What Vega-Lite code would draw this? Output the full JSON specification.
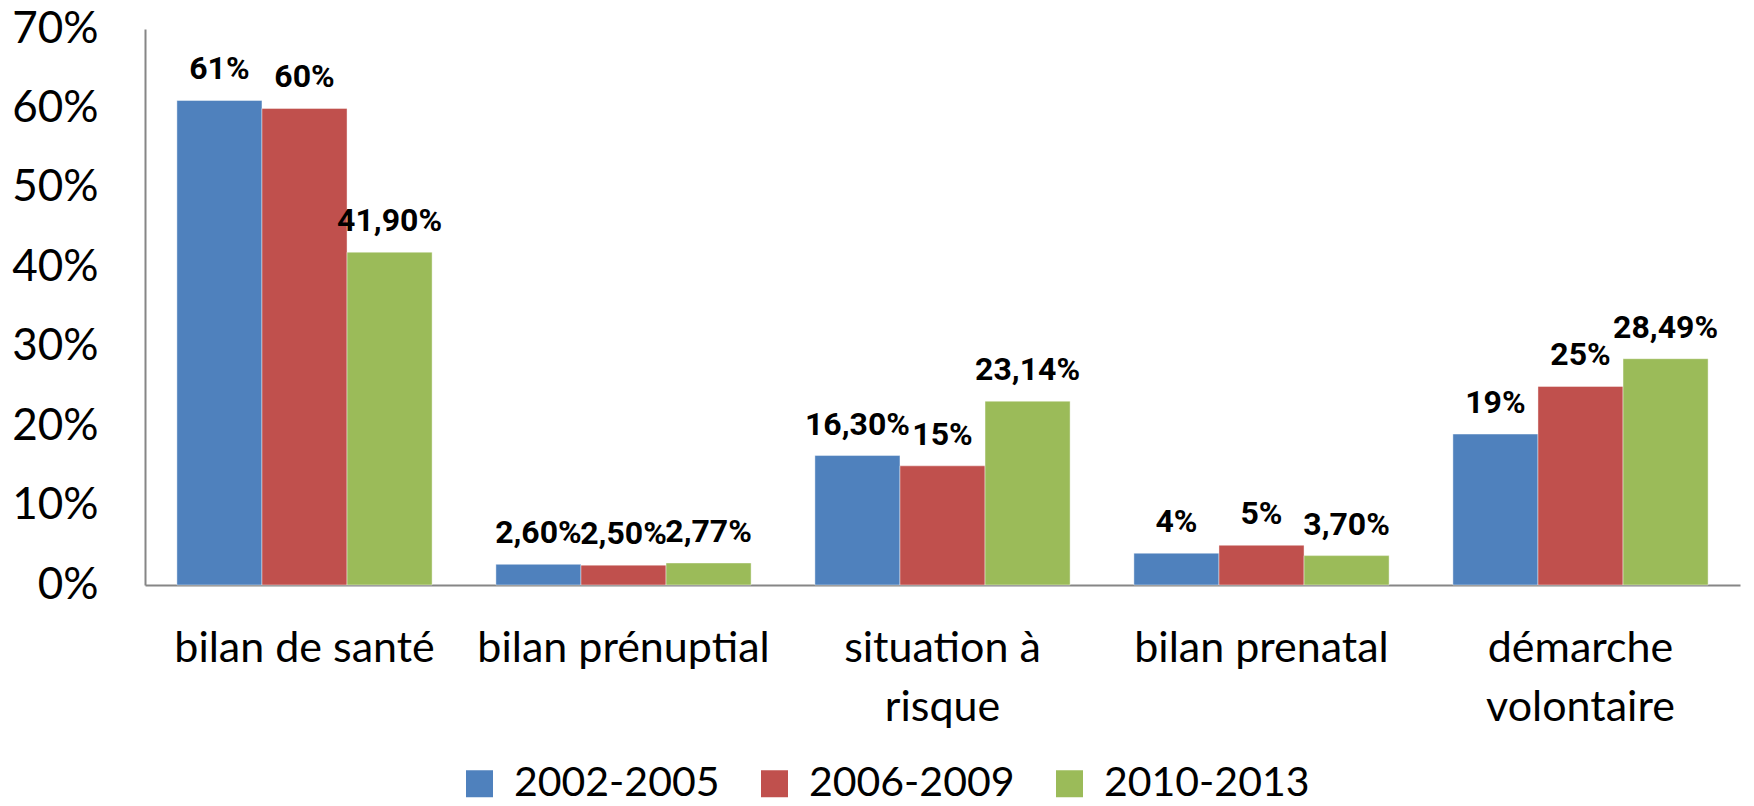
{
  "$schema": "https://vega.github.io/schema/vega-lite/v6.json",
  "autosize": {"type": "none"},
  "width": 1595,
  "height": 556,
  "padding": {"left": 145, "top": 29, "right": 14, "bottom": 221},
  "background": "white",
  "data": {
    "values": [
      {"categorie": "bilan de santé", "periode": "2002-2005", "valeur": 0.61, "etiquette": "61%"},
      {"categorie": "bilan de santé", "periode": "2006-2009", "valeur": 0.60, "etiquette": "60%"},
      {"categorie": "bilan de santé", "periode": "2010-2013", "valeur": 0.419, "etiquette": "41,90%"},
      {"categorie": "bilan prénuptial", "periode": "2002-2005", "valeur": 0.026, "etiquette": "2,60%"},
      {"categorie": "bilan prénuptial", "periode": "2006-2009", "valeur": 0.025, "etiquette": "2,50%"},
      {"categorie": "bilan prénuptial", "periode": "2010-2013", "valeur": 0.0277, "etiquette": "2,77%"},
      {"categorie": "situation à risque", "periode": "2002-2005", "valeur": 0.163, "etiquette": "16,30%"},
      {"categorie": "situation à risque", "periode": "2006-2009", "valeur": 0.15, "etiquette": "15%"},
      {"categorie": "situation à risque", "periode": "2010-2013", "valeur": 0.2314, "etiquette": "23,14%"},
      {"categorie": "bilan prenatal", "periode": "2002-2005", "valeur": 0.04, "etiquette": "4%"},
      {"categorie": "bilan prenatal", "periode": "2006-2009", "valeur": 0.05, "etiquette": "5%"},
      {"categorie": "bilan prenatal", "periode": "2010-2013", "valeur": 0.037, "etiquette": "3,70%"},
      {"categorie": "démarche volontaire", "periode": "2002-2005", "valeur": 0.19, "etiquette": "19%"},
      {"categorie": "démarche volontaire", "periode": "2006-2009", "valeur": 0.25, "etiquette": "25%"},
      {"categorie": "démarche volontaire", "periode": "2010-2013", "valeur": 0.2849, "etiquette": "28,49%"}
    ]
  },
  "encoding": {
    "x": {
      "field": "categorie",
      "type": "nominal",
      "sort": null,
      "scale": {"paddingInner": 0.2, "paddingOuter": 0.1},
      "axis": {
        "title": null,
        "labelAngle": 0,
        "labelFontSize": 43,
        "labelPadding": 42,
        "labelBaseline": "top",
        "labelLineHeight": 59,
        "labelLimit": 0,
        "ticks": false,
        "tickSize": 0,
        "domainColor": "#868686",
        "domainWidth": 2,
        "labelExpr": "datum.label == 'situation à risque' ? ['situation à', 'risque'] : datum.label == 'démarche volontaire' ? ['démarche', 'volontaire'] : datum.label"
      }
    },
    "xOffset": {"field": "periode", "type": "nominal", "sort": null},
    "y": {
      "field": "valeur",
      "type": "quantitative",
      "scale": {"domain": [0, 0.7], "nice": false},
      "axis": {
        "title": null,
        "format": ".0%",
        "values": [0, 0.1, 0.2, 0.3, 0.4, 0.5, 0.6, 0.7],
        "grid": false,
        "ticks": false,
        "tickSize": 0,
        "labelFontSize": 44,
        "labelPadding": 47,
        "domainColor": "#868686",
        "domainWidth": 2
      }
    }
  },
  "layer": [
    {
      "mark": {"type": "bar", "stroke": "white", "strokeWidth": 0.7, "strokeOpacity": 0.6},
      "encoding": {
        "color": {
          "field": "periode",
          "type": "nominal",
          "scale": {"domain": ["2002-2005", "2006-2009", "2010-2013"], "range": ["#4F81BD", "#C0504D", "#9BBB59"]},
          "legend": {
            "title": null,
            "orient": "none",
            "direction": "horizontal",
            "legendX": 314,
            "legendY": 734,
            "symbolType": "square",
            "symbolSize": 729,
            "symbolStrokeWidth": 0,
            "symbolOpacity": 1,
            "labelFontSize": 41,
            "labelOffset": 14,
            "labelLimit": 0,
            "columnPadding": 34,
            "labelColor": "black"
          }
        }
      }
    },
    {
      "mark": {"type": "text", "dy": -21, "baseline": "alphabetic", "fontWeight": "bold", "fontSize": 32, "color": "black", "font": "Roboto"},
      "encoding": {
        "text": {"field": "etiquette", "type": "nominal"}
      }
    }
  ],
  "config": {
    "font": "Lato",
    "view": {"stroke": null},
    "axis": {"labelFont": "Lato", "labelColor": "black"},
    "legend": {"labelFont": "Lato"}
  }
}
